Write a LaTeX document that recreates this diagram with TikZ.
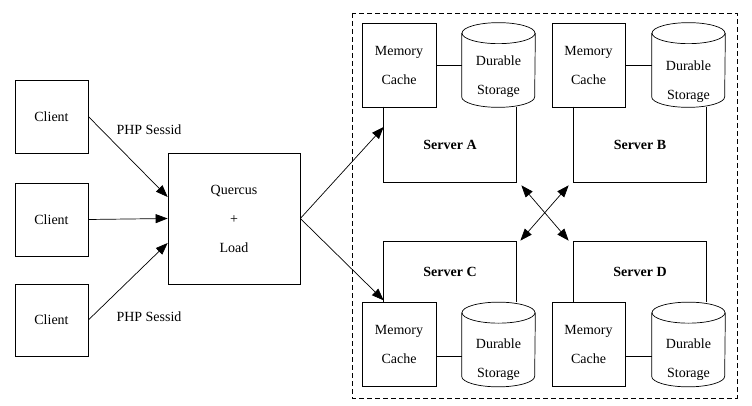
\documentclass[tikz,border=0pt]{standalone}
\usepackage{fontspec}
\setmainfont{Liberation Serif}
\usetikzlibrary{arrows.meta}

\begin{document}
\begin{tikzpicture}[x=1pt,y=-1pt,line width=0.7pt,
  font=\fontsize{14}{29}\selectfont,
  box/.style={draw,rectangle,inner sep=0pt,align=center},
  store/.style={rectangle,minimum width=73,minimum height=84,inner sep=0pt},
  srv/.style={rectangle,inner sep=0pt,minimum width=132,
    font=\fontsize{14}{16}\selectfont\bfseries},
  txt/.style={inner sep=0pt,align=center},
  link/.style={-{Triangle[length=12pt,width=9pt]}},
  biarrow/.style={{Triangle[length=12pt,width=9pt]}-{Triangle[length=12pt,width=9pt]}}]
\useasboundingbox (0,0) rectangle (752,406);

% clients and balancer
\node[box,minimum width=73,minimum height=73] (client1) at (51.5,116.5) {Client};
\node[box,minimum width=73,minimum height=73] (client2) at (51.5,219.5) {Client};
\node[box,minimum width=73,minimum height=72] (client3) at (51.5,320) {Client};
\node[box,minimum width=132,minimum height=131] (quercus) at (234,218.5) {Quercus\\+\\Load};
\node[txt] (sess1) at (149,130) {PHP Sessid};
\node[txt] (sess2) at (149,317) {PHP Sessid};

\draw[link] (client1.east) -- ([yshift=21.5pt]quercus.west);
\draw[link] (client2.east) -- (quercus.west);
\draw[link] (client3.east) -- ([yshift=-24.5pt]quercus.west);

% cluster
\draw[dashed,dash pattern=on 5pt off 3pt] (352,13) rectangle (737,398);

% server A
\node[box,minimum width=74,minimum height=84] (cacheA) at (399,65) {Memory\\Cache};
\node[store] (storeA) at (498.5,65) {};
\node[txt] (storeAtxt) at (498.5,77) {Durable\\Storage};
\node[srv,minimum height=75] (serverA) at (450,144.5) {Server A};
\draw (serverA.north west) |- (serverA.south east) -- (serverA.north east);
\draw (cacheA.east) -- (cacheA.east -| storeA.west);

% server B
\node[box,minimum width=73,minimum height=84] (cacheB) at (588.5,65) {Memory\\Cache};
\node[store] (storeB) at (688.5,65) {};
\node[txt] (storeBtxt) at (688.5,82) {Durable\\Storage};
\node[srv,minimum height=75] (serverB) at (640,144.5) {Server B};
\draw (serverB.north west) |- (serverB.south east) -- (serverB.north east);
\draw (cacheB.east) -- (cacheB.east -| storeB.west);

% server C
\node[srv,minimum height=60] (serverC) at (450,272) {Server C};
\node[box,minimum width=74,minimum height=84] (cacheC) at (399,344) {Memory\\Cache};
\node[store] (storeC) at (498.5,344.5) {};
\node[txt] (storeCtxt) at (498.5,360) {Durable\\Storage};
\draw (serverC.south west) |- (serverC.north east) -- (serverC.south east);
\draw ([yshift=-12pt]cacheC.east) -- ([yshift=-12pt]cacheC.east -| storeC.west);

% server D
\node[srv,minimum height=60] (serverD) at (640,272) {Server D};
\node[box,minimum width=73,minimum height=84] (cacheD) at (588.5,344) {Memory\\Cache};
\node[store] (storeD) at (688.5,344.5) {};
\node[txt] (storeDtxt) at (688.5,360) {Durable\\Storage};
\draw (serverD.south west) |- (serverD.north east) -- (serverD.south east);
\draw ([yshift=-12pt]cacheD.east) -- ([yshift=-12pt]cacheD.east -| storeD.west);

% storage drums
\foreach \s in {storeA,storeB,storeC,storeD} {
  \draw ([yshift=-10.5pt]\s.north) ellipse [x radius=36.5pt,y radius=10.5pt];
  \draw ([yshift=-10.5pt]\s.north west) -- ([yshift=10.5pt]\s.south west)
    arc [start angle=180,end angle=360,x radius=36.5pt,y radius=10.5pt]
    -- ([yshift=-10.5pt]\s.north east);
}

% balancer to servers, replication
\draw[link] (quercus.east) -- ([yshift=17.5pt]serverA.west);
\draw[link] (quercus.east) -- ([yshift=2pt]serverC.south west);
\draw[biarrow] ([shift={(5,3)}]serverA.south east) -- ([shift={(-5,-1)}]serverD.north west);
\draw[biarrow] ([shift={(-5,3)}]serverB.south west) -- ([shift={(4,-1)}]serverC.north east);
\end{tikzpicture}
\end{document}
